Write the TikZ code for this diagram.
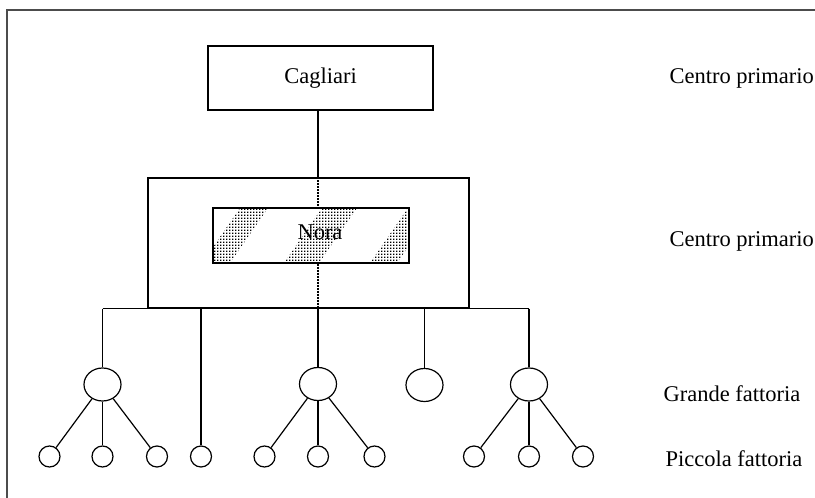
\documentclass[tikz,border=0pt]{standalone}
\usepackage{fontspec}
\setmainfont{Liberation Serif}
\usetikzlibrary{positioning,shapes.geometric,patterns}
\pgfdeclarepatternformonly{puntini}{\pgfpointorigin}{\pgfqpoint{3.3pt}{3.3pt}}{\pgfqpoint{3.3pt}{3.3pt}}{%
  \pgfpathrectangle{\pgfpointorigin}{\pgfqpoint{1.7pt}{1.7pt}}\pgfusepath{fill}}

\begin{document}
\begin{tikzpicture}[x=1pt,y=-1pt,
  every node/.style={font=\fontsize{22.5}{27}\selectfont},
  boite/.style={draw,line width=1.2pt,inner sep=0pt},
  grande/.style={draw,ellipse,line width=1.2pt,minimum width=37pt,minimum height=33pt,inner sep=0pt},
  piccola/.style={draw,circle,line width=1.2pt,minimum size=21pt,inner sep=0pt},
  fl/.style={line width=1.2pt},
  pointille/.style={line width=1.2pt,dash pattern=on 2pt off 1pt},
  etiq/.style={anchor=base west}
]
\useasboundingbox (0,0) rectangle (815,498);
\draw[line width=1.5pt,black!70] (7,498) -- (7,10) -- (815,10);

% centres
\node[boite,minimum width=225pt,minimum height=64pt] (cag) at (320.5,78) {Cagliari};
\node[boite,minimum width=321pt,minimum height=130pt] (reg) at (308.5,243) {};
\node[boite,minimum width=196pt,minimum height=55pt] (nora) at (311,235.5) {};
\begin{scope}
  \clip (nora.south west) rectangle (nora.north east);
  \fill[pattern=puntini] (240,208) -- (268,208) -- (230,263) -- (202,263) -- cycle;
  \fill[pattern=puntini] (322,208) -- (357,208) -- (319,263) -- (284,263) -- cycle;
  \fill[pattern=puntini] (408,208) -- (435,208) -- (397,263) -- (370,263) -- cycle;
\end{scope}
\draw[line width=1.2pt] (nora.south west) rectangle (nora.north east);
\node[anchor=base] (noralab) at (320,239) {Nora};

% fattorie
\node[grande] (g1) at (102.5,384.5) {};
\node[grande] (g2) at (318,384) {};
\node[grande] (g3) at (424.5,385) {};
\node[grande] (g4) at (529,384.5) {};
\node[piccola] (p1) at (49.5,456.5) {};
\node[piccola] (p2) at (102.5,456.5) {};
\node[piccola] (p3) at (157,456.5) {};
\node[piccola] (p4) at (201,456.5) {};
\node[piccola] (p5) at (264.5,456.5) {};
\node[piccola] (p6) at (318,456.5) {};
\node[piccola] (p7) at (374.5,456.5) {};
\node[piccola] (p8) at (474,456.5) {};
\node[piccola] (p9) at (529,456.5) {};
\node[piccola] (p10) at (583,456.5) {};

% legami
\draw[fl] (cag.south -| g2) -- (reg.north -| g2);
\draw[pointille] (reg.north -| g2) -- (nora.north -| g2);
\draw[pointille] (nora.south -| g2) -- (reg.south -| g2);
\draw[fl] (reg.south -| g1) -- (reg.south -| g4);
\draw[fl] (reg.south -| g1) -- (g1);
\draw[fl] (reg.south -| p4) -- (p4);
\draw[fl] (reg.south -| g2) -- (g2);
\draw[fl] (reg.south -| g3) -- (g3);
\draw[fl] (reg.south -| g4) -- (g4);
\draw[fl] (g1) -- (p1); \draw[fl] (g1) -- (p2); \draw[fl] (g1) -- (p3);
\draw[fl] (g2) -- (p5); \draw[fl] (g2) -- (p6); \draw[fl] (g2) -- (p7);
\draw[fl] (g4) -- (p8); \draw[fl] (g4) -- (p9); \draw[fl] (g4) -- (p10);

% livelli
\node[etiq] (l1) at (666,83) {Centro primario};
\node[etiq] (l2) at (666,246) {Centro primario};
\node[etiq] (l3) at (660,401) {Grande fattoria};
\node[etiq] (l4) at (662,466) {Piccola fattoria};
\end{tikzpicture}
\end{document}
